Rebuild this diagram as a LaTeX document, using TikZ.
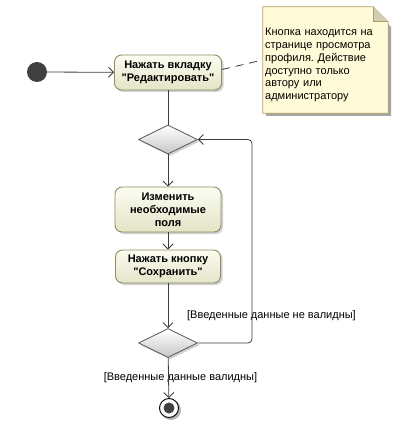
\documentclass[tikz,border=0pt]{standalone}
\usepackage{fontspec}
\setmainfont{Liberation Sans}[Ligatures=TeXOff]
\usetikzlibrary{shapes.geometric,arrows.meta,shadows,calc}
\definecolor{actborder}{RGB}{140,140,95}
\definecolor{acttop}{RGB}{252,252,242}
\definecolor{actbot}{RGB}{228,228,200}
\definecolor{notefill}{RGB}{255,250,215}
\definecolor{noteborder}{RGB}{180,160,100}
\definecolor{darkdot}{RGB}{64,64,64}
\definecolor{linecol}{RGB}{60,60,60}
\frenchspacing
\begin{document}
\begin{tikzpicture}[x=1pt,y=-1pt,
  txt/.style={font=\fontsize{11}{12.8}\selectfont},
  action/.style={txt, font=\fontsize{11}{12.8}\selectfont\bfseries, rectangle, rounded corners=7pt, draw=actborder, line width=0.9pt,
     top color=acttop, bottom color=actbot, align=center, inner sep=2pt,
     drop shadow={shadow xshift=2pt, shadow yshift=-2pt, fill=black!30, opacity=0.6}},
  decision/.style={diamond, draw=gray!70!black, line width=0.8pt, top color=white, bottom color=black!22,
     minimum width=59pt, minimum height=29pt, inner sep=0pt,
     drop shadow={shadow xshift=2pt, shadow yshift=-2pt, fill=black!30, opacity=0.6}},
  flow/.style={draw=linecol, line width=0.8pt, -{Straight Barb[length=5pt,width=10pt]}},
  lbl/.style={txt, inner sep=0pt}
]
\useasboundingbox (0,0) rectangle (406,438);

% note
\fill[black!35] (266,10) -- (374,10) -- (391,27) -- (391,116) -- (266,116) -- cycle;
\node[txt, minimum width=125pt, minimum height=106pt, inner sep=0pt] (note) at (325.5,60) {};
\fill[notefill] (note.north west) -- ($(note.north east)+(-15,0)$) -- ($(note.north east)+(0,15)$) -- (note.south east) -- (note.south west) -- cycle;
\draw[noteborder, line width=0.8pt] (note.north west) -- ($(note.north east)+(-15,0)$) -- ($(note.north east)+(0,15)$) -- (note.south east) -- (note.south west) -- cycle;
\draw[noteborder, line width=0.8pt, fill=notefill!80!black!90] ($(note.north east)+(-15,0)$) -- ($(note.north east)+(-15,15)$) -- ($(note.north east)+(0,15)$);
\node[txt, align=left, anchor=north west, inner sep=0pt, text width=122pt] (notetext) at (265,28)
  {Кнопка находится на\\странице просмотра\\профиля. Действие\\доступно только\\автору или\\администратору};

% start
\node[circle, fill=darkdot, minimum size=20pt, inner sep=0pt] (start) at (37,72) {};

% actions
\node[action, minimum width=107pt, minimum height=35pt] (a1) at (168,72.5) {Нажать вкладку\\"Редактировать"};
\node[decision] (d1) at (168,139.5) {};
\node[action, minimum width=106pt, minimum height=45pt] (a2) at (168,209.5) {Изменить\\необходимые\\поля};
\node[action, minimum width=105pt, minimum height=33pt] (a3) at (168,266.5) {Нажать кнопку\\"Сохранить"};
\node[decision] (d2) at (168,343) {};

% end
\node[circle, fill=black!30, minimum size=20pt, inner sep=0pt] (endsh) at (171,410) {};
\node[circle, draw=black, line width=0.9pt, fill=white, minimum size=19pt, inner sep=0pt] (end) at (169,408) {};
\node[circle, fill=darkdot, minimum size=11pt, inner sep=0pt] (endin) at (end.center) {};

% labels
\node[lbl] (l1) at (271.5,316) {[Введенные данные не валидны]};
\node[lbl] (l2) at (180.5,378) {[Введенные данные валидны]};

% connectors
\draw[flow] (start) -- (a1);
\draw[draw=linecol, line width=0.8pt] (a1) -- (d1);
\draw[flow] (d1) -- (a2);
\draw[flow] (a2) -- (a3);
\draw[flow] (a3) -- (d2);
\draw[flow] (d2) -- (end);
\coordinate (loopx) at (252,240);
\draw[flow, rounded corners=4pt] (d2.east) -| (loopx) |- (d1.east);
\draw[draw=linecol, line width=0.8pt, dash pattern=on 8pt off 6pt] ([yshift=3pt]a1.east) -- (note.west);
\end{tikzpicture}
\end{document}
